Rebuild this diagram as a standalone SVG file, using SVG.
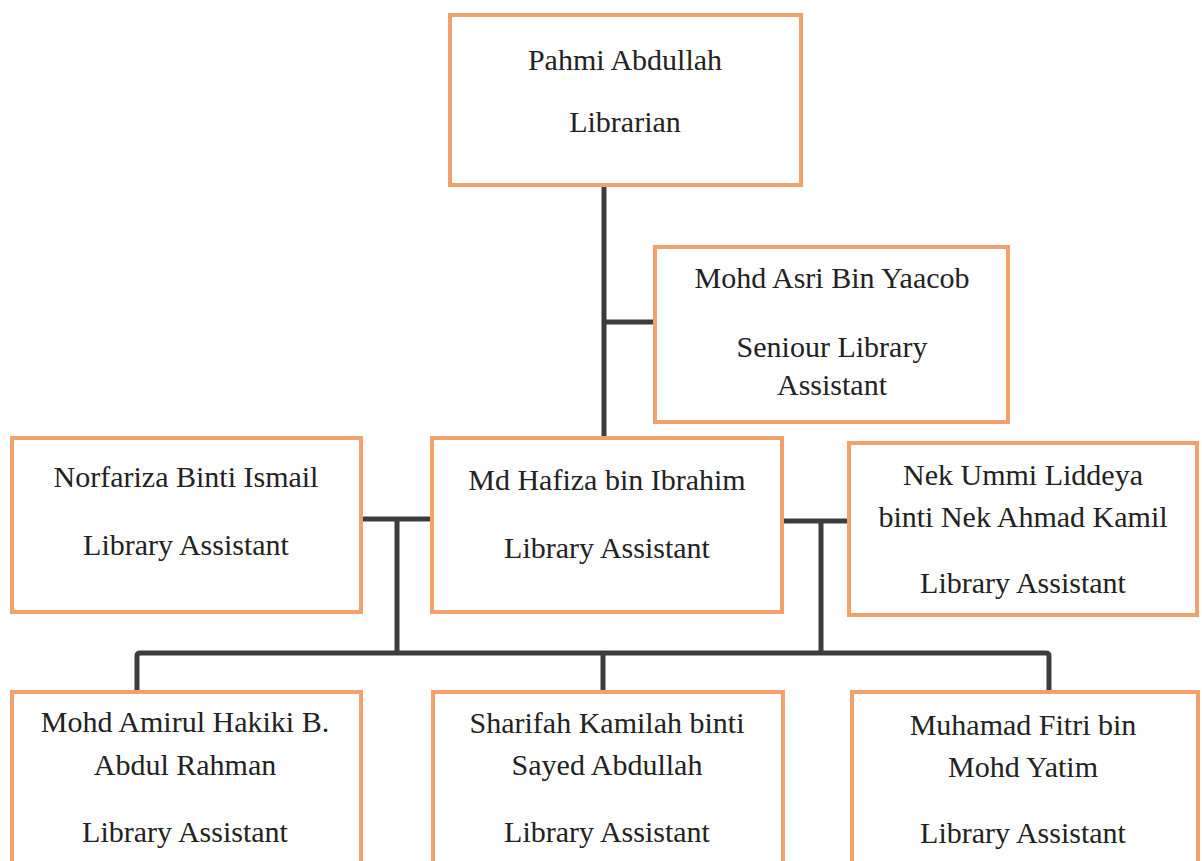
<svg xmlns="http://www.w3.org/2000/svg" width="1202" height="861" viewBox="0 0 1202 861">
<style>
.box{fill:#fff;stroke:#F2A06C;stroke-width:4}
.t{font-size:30px;fill:#222;text-anchor:middle}
.c{fill:none;stroke:#3c3c3c;stroke-width:5;stroke-linejoin:round}
</style>
<rect width="1202" height="861" fill="#fff"/>
<g id="connectors">
<path class="c" d="M604,185 V438"/>
<path class="c" d="M604,322 H655"/>
<path class="c" d="M361,519 H432"/>
<path class="c" d="M397,519 V653"/>
<path class="c" d="M782,521 H849"/>
<path class="c" d="M821,521 V653"/>
<path class="c" d="M137,692 V656 Q137,653 140,653 H1046 Q1049,653 1049,656 V692"/>
<path class="c" d="M603,653 V692"/>
</g>
<g font-family="Liberation Serif, serif">
<g id="n1"><rect class="box" x="450" y="15" width="351" height="170"/>
<text class="t" x="625" y="70">Pahmi Abdullah</text>
<text class="t" x="625" y="132">Librarian</text></g>
<g id="n2"><rect class="box" x="655" y="247" width="353" height="175"/>
<text class="t" x="832" y="288">Mohd Asri Bin Yaacob</text>
<text class="t" x="832" y="357">Seniour Library</text>
<text class="t" x="832" y="395">Assistant</text></g>
<g id="n3"><rect class="box" x="12" y="438" width="349" height="174"/>
<text class="t" x="186" y="487">Norfariza Binti Ismail</text>
<text class="t" x="186" y="555">Library Assistant</text></g>
<g id="n4"><rect class="box" x="432" y="438" width="350" height="174"/>
<text class="t" x="607" y="490">Md Hafiza bin Ibrahim</text>
<text class="t" x="607" y="558">Library Assistant</text></g>
<g id="n5"><rect class="box" x="849" y="443" width="348" height="172"/>
<text class="t" x="1023" y="485">Nek Ummi Liddeya</text>
<text class="t" x="1023" y="527">binti Nek Ahmad Kamil</text>
<text class="t" x="1023" y="593">Library Assistant</text></g>
<g id="n6"><rect class="box" x="12" y="692" width="349" height="180"/>
<text class="t" x="185" y="732">Mohd Amirul Hakiki B.</text>
<text class="t" x="185" y="775">Abdul Rahman</text>
<text class="t" x="185" y="842">Library Assistant</text></g>
<g id="n7"><rect class="box" x="433" y="692" width="350" height="180"/>
<text class="t" x="607" y="733">Sharifah Kamilah binti</text>
<text class="t" x="607" y="775">Sayed Abdullah</text>
<text class="t" x="607" y="842">Library Assistant</text></g>
<g id="n8"><rect class="box" x="852" y="692" width="346" height="180"/>
<text class="t" x="1023" y="735">Muhamad Fitri bin</text>
<text class="t" x="1023" y="777">Mohd Yatim</text>
<text class="t" x="1023" y="843">Library Assistant</text></g>
</g>
</svg>
